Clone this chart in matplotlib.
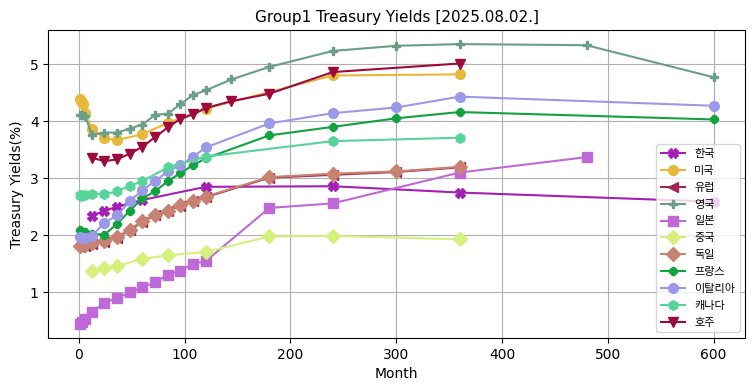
"""Group1 treasury yield curves by country."""

import matplotlib
matplotlib.use('Agg')

import matplotlib.pyplot as plt

plt.rcParams['font.family'] = ['DejaVu Sans', 'Noto Sans CJK KR']
plt.rcParams['axes.unicode_minus'] = False

# ----------------------------------------------------------------------------
# Data (maturity in months, yield in %)

kr_month = [12, 24, 36, 60, 120, 240, 360, 600]
kr_yield = [2.34, 2.43, 2.50, 2.62, 2.85, 2.86, 2.75, 2.59]

us_month = [1, 2, 3, 4, 6, 12, 24, 36, 60, 84, 120, 240, 360]
us_yield = [4.38, 4.36, 4.33, 4.30, 4.15, 3.87, 3.70, 3.67, 3.77, 3.97,
            4.22, 4.80, 4.82]

eu_month = [1, 6, 12, 24, 36, 48, 60, 72, 84, 96, 108, 120, 180, 240, 300,
            360]
eu_yield = [1.80, 1.82, 1.85, 1.89, 1.96, 2.09, 2.24, 2.35, 2.42, 2.52,
            2.60, 2.67, 3.01, 3.06, 3.11, 3.19]

uk_month = [1, 3, 6, 12, 24, 36, 48, 60, 72, 84, 96, 108, 120, 144, 180,
            240, 300, 360, 480, 600]
uk_yield = [4.10, 4.10, 4.09, 3.76, 3.80, 3.80, 3.87, 3.94, 4.11, 4.13,
            4.30, 4.46, 4.54, 4.73, 4.95, 5.23, 5.32, 5.35, 5.33, 4.77]

jp_month = [1, 3, 6, 12, 24, 36, 48, 60, 72, 84, 96, 108, 120, 180, 240,
            360, 480]
jp_yield = [0.45, 0.48, 0.54, 0.65, 0.82, 0.90, 1.00, 1.09, 1.18, 1.31,
            1.38, 1.50, 1.55, 2.48, 2.56, 3.10, 3.37]

cn_month = [12, 24, 36, 60, 84, 120, 180, 240, 360]
cn_yield = [1.38, 1.42, 1.46, 1.59, 1.65, 1.71, 1.98, 1.99, 1.93]

de_month = [1, 6, 12, 24, 36, 48, 60, 72, 84, 96, 108, 120, 180, 240, 300,
            360]
de_yield = [1.81, 1.83, 1.86, 1.90, 1.97, 2.10, 2.25, 2.36, 2.43, 2.53,
            2.61, 2.68, 3.02, 3.08, 3.12, 3.20]

fr_month = [1, 6, 12, 24, 36, 48, 60, 72, 84, 96, 108, 120, 180, 240, 300,
            360, 600]
fr_yield = [2.10, 2.05, 2.03, 2.01, 2.20, 2.43, 2.65, 2.77, 2.95, 3.09,
            3.23, 3.35, 3.75, 3.90, 4.05, 4.16, 4.03]

it_month = [1, 3, 6, 12, 24, 36, 48, 60, 72, 84, 96, 108, 120, 180, 240,
            300, 360, 600]
it_yield = [1.97, 1.95, 1.96, 1.98, 2.22, 2.35, 2.60, 2.79, 2.95, 3.12,
            3.23, 3.38, 3.54, 3.96, 4.14, 4.24, 4.43, 4.27]

ca_month = [1, 2, 3, 6, 12, 24, 36, 48, 60, 84, 120, 240, 360]
ca_yield = [2.70, 2.69, 2.70, 2.71, 2.73, 2.72, 2.77, 2.87, 2.95, 3.19,
            3.38, 3.65, 3.71]

au_month = [12, 24, 36, 48, 60, 72, 84, 96, 108, 120, 144, 180, 240, 360]
au_yield = [3.36, 3.30, 3.33, 3.43, 3.55, 3.72, 3.89, 4.04, 4.12, 4.23,
            4.35, 4.48, 4.86, 5.01]

# name, months, yields, color, marker, markersize
series = [
    ('한국', kr_month, kr_yield, '#a41fb4', 'X', 7),
    ('미국', us_month, us_yield, '#e8b83a', 'o', 7),
    ('유럽', eu_month, eu_yield, '#a3284f', '<', 7),
    ('영국', uk_month, uk_yield, '#6a9e86', 'P', 6),
    ('일본', jp_month, jp_yield, '#bf69d8', 's', 7),
    ('중국', cn_month, cn_yield, '#d6f07e', 'D', 7),
    ('독일', de_month, de_yield, '#c88272', 'D', 7),
    ('프랑스', fr_month, fr_yield, '#12a23f', '8', 5.5),
    ('이탈리아', it_month, it_yield, '#9b99e8', 'o', 7),
    ('캐나다', ca_month, ca_yield, '#57d49a', 'h', 7),
    ('호주', au_month, au_yield, '#9c0a3e', 'v', 7),
]

# ----------------------------------------------------------------------------

fig, ax = plt.subplots(figsize=(7.55, 3.91), dpi=100)

for name, months, yields, color, marker, ms in series:
    ax.plot(months, yields, color=color, marker=marker, markersize=ms,
            linewidth=1.5, label=name)

ax.set_title('Group1 Treasury Yields [2025.08.02.]', fontsize=11)
ax.set_xlabel('Month')
ax.set_ylabel('Treasury Yields(%)')
ax.grid(True)
ax.legend(loc='lower right', fontsize=8, handlelength=2.2,
          labelspacing=0.62)

fig.subplots_adjust(left=0.064, right=0.987, top=0.923, bottom=0.136)
fig.savefig('out.png', dpi=100)
